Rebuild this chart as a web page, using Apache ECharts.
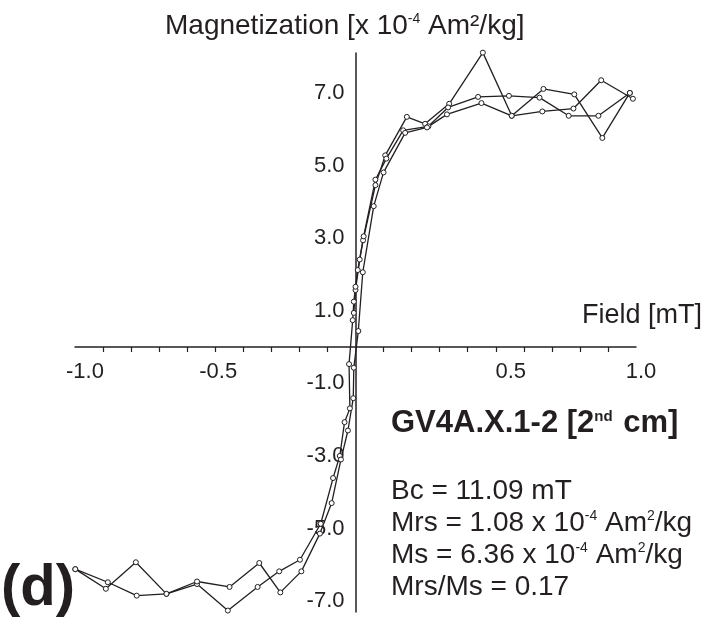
<!DOCTYPE html>
<html>
<head>
<meta charset="utf-8">
<style>
  html, body { margin: 0; padding: 0; background: #fff; }
  #chart { width: 704px; height: 620px; }
</style>
<script src="https://cdn.jsdelivr.net/npm/echarts@6/dist/echarts.min.js"></script>
</head>
<body>
<div id="chart"></div>
<script>
// Hysteresis loop of sample GV4A.X.1-2 (moment in 1e-4 Am²/kg)

// initial magnetisation curve, 0 -> +max
const fieldInit  = [-0.006, 0.000, 0.015, 0.027, 0.071, 0.106, 0.183, 0.248, 0.334, 0.454, 0.557, 0.670, 0.780, 0.880, 0.978];
const momentInit = [0.94, 1.57, 2.41, 2.94, 4.46, 5.28, 6.34, 6.15, 6.70, 8.11, 6.37, 7.11, 6.96, 5.76, 7.00];

// descending branch, +max -> -max
const fieldDown  = [0.978, 0.866, 0.760, 0.656, 0.547, 0.437, 0.330, 0.260, 0.170, 0.110, 0.071, 0.029, 0.008, 0.000, -0.006, -0.010, -0.023, -0.020, -0.039, -0.056, -0.080, -0.124, -0.198, -0.272, -0.349, -0.455, -0.565, -0.674, -0.783, -0.890, -0.999];
const momentDown = [7.00, 6.37, 6.37, 6.87, 6.92, 6.89, 6.60, 6.08, 5.97, 5.19, 4.61, 3.05, 2.12, 1.66, 1.25, 0.74, -0.47, -1.69, -2.07, -3.00, -3.61, -4.87, -5.86, -6.18, -6.61, -7.26, -6.53, -6.80, -5.93, -6.66, -6.12];

// ascending branch, -max -> +max
const fieldUp  = [-0.999, -0.883, -0.780, -0.674, -0.565, -0.449, -0.343, -0.268, -0.193, -0.127, -0.085, -0.052, -0.027, -0.008, -0.006, 0.010, 0.026, 0.065, 0.100, 0.177, 0.255, 0.326, 0.449, 0.557, 0.666, 0.777, 0.876, 0.989];
const momentUp = [-6.12, -6.48, -6.85, -6.80, -6.46, -6.61, -5.95, -6.76, -6.18, -5.14, -4.30, -3.10, -2.30, -1.41, -0.57, 0.44, 2.06, 3.88, 4.81, 5.90, 6.05, 6.41, 6.72, 6.37, 6.49, 6.57, 7.35, 6.84];

// axis annotations
const xLabelValues = [-1.0, -0.5, 0.5, 1.0];
const xTickValues  = [-0.9, -0.8, -0.7, -0.6, -0.5, -0.4, -0.3, -0.2, -0.1, 0.1, 0.2, 0.3, 0.4, 0.5, 0.6, 0.7, 0.8, 0.9];
const yLabelValues = [-7, -5, -3, -1, 1, 3, 5, 7];

const INK = '#231f20';
const FONT = '"Liberation Sans", Arial, Helvetica, sans-serif';

const GRID = { left: 75, right: 68, top: 53, bottom: 8 };
const W = 704, H = 620;

function pairs(xs, ys) { return xs.map((x, i) => [x, ys[i]]); }

function branch(name, xs, ys) {
  return {
    name: name,
    type: 'line',
    data: pairs(xs, ys),
    symbol: 'circle',
    symbolSize: 5,
    showSymbol: true,
    clip: false,
    lineStyle: { color: INK, width: 1.3 },
    itemStyle: { color: '#fff', borderColor: INK, borderWidth: 1 },
    emphasis: { disabled: true },
    z: 3
  };
}

// small nudges of the x tick labels
const xLabelShift = { '-1': 20, '-0.5': 6, '0.5': 30, '1': 10 };
function shiftStyle(px) { return { fontFamily: FONT, fontSize: 22, color: INK, padding: [0, 0, 0, px] }; }

const chart = echarts.init(document.getElementById('chart'), null, { renderer: 'canvas' });
chart.setOption({
  animation: false,
  backgroundColor: '#fff',
  grid: Object.assign({ outerBoundsMode: 'none', containLabel: false }, GRID),
  xAxis: {
    type: 'value',
    position: 'bottom',
    min: -1, max: 1,
    axisLine: { onZero: false, lineStyle: { color: INK, width: 1.5 } },
    axisTick: { show: true, customValues: xTickValues, length: 5, lineStyle: { color: INK, width: 1.2 } },
    splitLine: { show: false },
    axisLabel: {
      customValues: xLabelValues,
      margin: 14,
      color: INK,
      fontFamily: FONT,
      fontSize: 22,
      formatter: v => '{s' + Math.round(v * 10 + 10) + '|' + v.toFixed(1) + '}',
      rich: {
        s0:  shiftStyle(xLabelShift['-1']),
        s5:  shiftStyle(xLabelShift['-0.5']),
        s15: shiftStyle(xLabelShift['0.5']),
        s20: shiftStyle(xLabelShift['1'])
      }
    }
  },
  yAxis: {
    type: 'value',
    position: 'left',
    min: -7.3, max: 8.1,
    axisLine: { onZero: false, lineStyle: { color: INK, width: 1.5 } },
    axisTick: { show: false },
    splitLine: { show: false },
    axisLabel: {
      customValues: yLabelValues,
      margin: 11,
      color: INK,
      fontFamily: FONT,
      fontSize: 22,
      formatter: v => v.toFixed(1)
    }
  },
  series: [
    branch('initial', fieldInit, momentInit),
    branch('descending', fieldDown, momentDown),
    branch('ascending', fieldUp, momentUp)
  ],
  graphic: [
    {
      type: 'text', left: 165, top: 12,
      style: {
        text: '{n|Magnetization [x 10}{s|-4}{n| Am²/kg]}',
        rich: {
          n: { fontFamily: FONT, fontSize: 28, fill: INK },
          s: { fontFamily: FONT, fontSize: 14, fill: INK, padding: [0, 0, 13, 0] }
        }
      }
    },
    {
      type: 'text', right: 2, top: 302,
      style: { text: 'Field [mT]', fontFamily: FONT, fontSize: 27, fill: INK }
    },
    {
      type: 'text', left: 391, top: 408,
      style: {
        text: '{b|GV4A.X.1-2 [2}{s|nd}{b| cm]}',
        rich: {
          b: { fontFamily: FONT, fontSize: 31, fontWeight: 'bold', fill: INK },
          s: { fontFamily: FONT, fontSize: 15, fontWeight: 'bold', fill: INK, padding: [0, 2, 14, 0] }
        }
      }
    },
    {
      type: 'text', left: 391, top: 477,
      style: {
        text: '{n|Bc = 11.09 mT}\n{n|Mrs = 1.08 x 10}{s|-4}{n| Am}{s|2}{n|/kg}\n{n|Ms = 6.36 x 10}{s|-4}{n| Am}{s|2}{n|/kg}\n{n|Mrs/Ms = 0.17}',
        rich: {
          n: { fontFamily: FONT, fontSize: 28, fill: INK, lineHeight: 32 },
          s: { fontFamily: FONT, fontSize: 14, fill: INK, lineHeight: 32, padding: [0, 0, 14, 0] }
        }
      }
    },
    {
      type: 'text', left: 1, top: 560,
      style: { text: '(d)', fontFamily: FONT, fontSize: 58, fontWeight: 'bold', fill: INK }
    }
  ]
});

// Move both axes onto the origin so the tick labels travel with the axis lines.
const origin = chart.convertToPixel({ gridIndex: 0 }, [0, 0]);
chart.setOption({
  xAxis: { offset: origin[1] - (H - GRID.bottom) },
  yAxis: { offset: GRID.left - origin[0] }
});
</script>
</body>
</html>
